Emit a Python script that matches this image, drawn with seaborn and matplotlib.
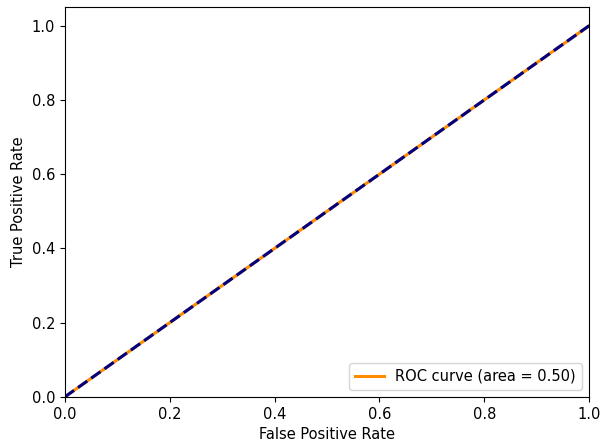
import matplotlib
matplotlib.use("Agg")
import matplotlib.pyplot as plt
import seaborn as sns

plt.rcParams['font.size'] = 10.5

# ROC points (a random classifier: straight diagonal)
fpr = [0.0, 1.0]
tpr = [0.0, 1.0]
roc_auc = 0.50

chance_x = [0.0, 1.0]
chance_y = [0.0, 1.0]

fig, ax = plt.subplots(figsize=(6, 4.43), dpi=100)
fig.subplots_adjust(left=0.108, right=0.982, bottom=0.104, top=0.984)

sns.lineplot(x=fpr, y=tpr, color='darkorange', lw=2.2,
             label='ROC curve (area = %0.2f)' % roc_auc, ax=ax)
sns.lineplot(x=chance_x, y=chance_y, color='navy', lw=2.2, linestyle='--', ax=ax)

ax.set_xlim([0.0, 1.0])
ax.set_ylim([0.0, 1.05])
ax.set_xlabel('False Positive Rate')
ax.set_ylabel('True Positive Rate')
ax.legend(loc='lower right')

plt.savefig('out.png')
